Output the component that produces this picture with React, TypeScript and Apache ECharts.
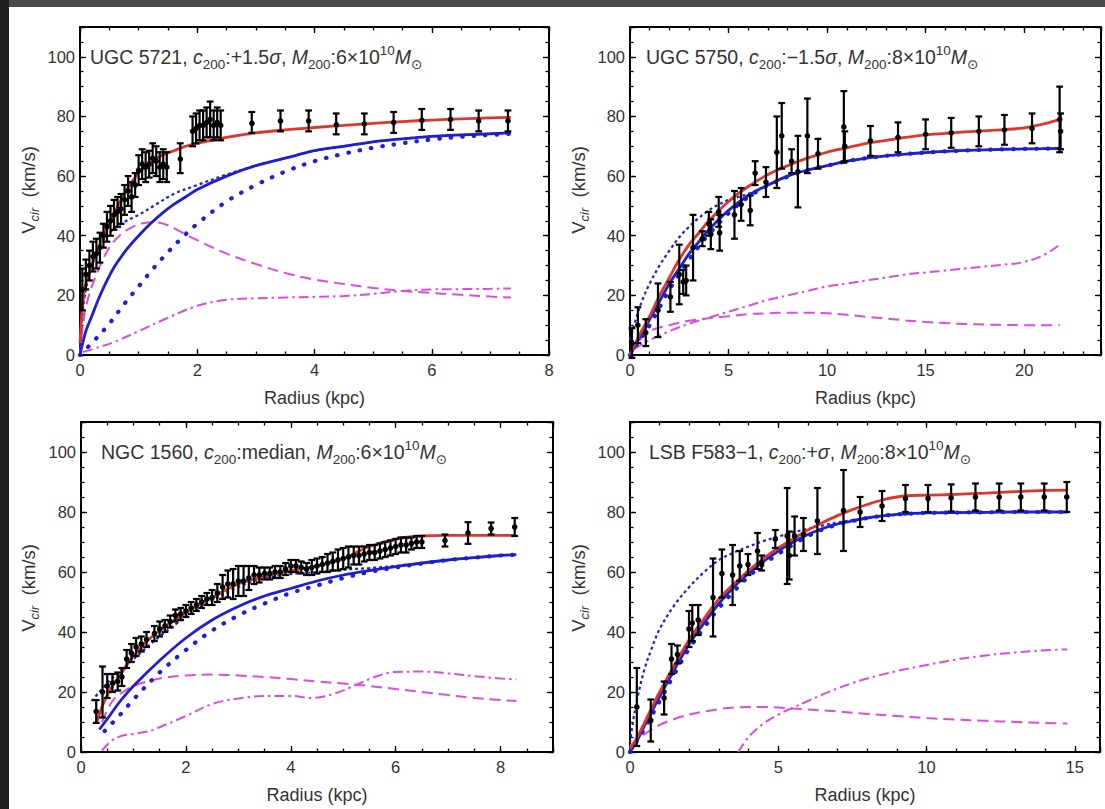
import React, { useEffect, useRef } from "react";
import * as echarts from "echarts";

// ---------------- Panel 1: UGC 5721 ----------------
const p1Obs = [
  [0.04, 22, 7], [0.1, 27, 5], [0.16, 30, 5], [0.22, 33, 5], [0.28, 34, 5], [0.34, 36, 5],
  [0.4, 40, 4], [0.46, 43, 5], [0.52, 45, 5], [0.58, 47, 5], [0.64, 48, 5], [0.7, 49, 5],
  [0.76, 52, 5], [0.82, 55, 5], [0.88, 53, 5], [0.94, 57, 4], [1.0, 62, 5], [1.06, 64, 5],
  [1.12, 63, 5], [1.18, 64, 4.5], [1.24, 66, 5], [1.3, 65, 5], [1.36, 63, 5], [1.42, 64, 5],
  [1.48, 63, 5], [1.71, 66, 5], [1.92, 75, 5], [1.98, 76, 5], [2.04, 77, 5], [2.1, 77, 5],
  [2.16, 78, 5], [2.22, 79, 6], [2.28, 77, 5], [2.34, 78, 5], [2.4, 77, 5],
  [2.93, 78, 3.5], [3.42, 78.5, 3.5], [3.9, 78.5, 3.5], [4.37, 77.5, 3.5], [4.85, 77.5, 3.5],
  [5.35, 78, 3.5], [5.83, 79, 3.5], [6.32, 79, 3.5], [6.8, 78.5, 3.5], [7.3, 78.5, 3.5],
];
const p1Red = [
  [0, 4], [0.05, 18], [0.1, 24], [0.2, 30], [0.3, 35], [0.4, 40], [0.5, 44], [0.6, 48], [0.7, 52],
  [0.8, 55.5], [0.9, 58.5], [1.0, 61], [1.2, 64.5], [1.4, 67], [1.6, 68.5], [1.8, 70], [2.0, 71],
  [2.5, 73], [3.0, 74.5], [3.5, 75.5], [4.0, 76.3], [4.5, 77], [5.0, 77.7], [5.5, 78.3], [6.0, 78.8],
  [6.5, 79.2], [7.0, 79.5], [7.35, 79.7],
];
const p1Blue = [
  [0, 0], [0.1, 8], [0.2, 13], [0.3, 18], [0.4, 22.5], [0.5, 26.5], [0.6, 30], [0.8, 35.5], [1.0, 40],
  [1.2, 44], [1.4, 47.5], [1.6, 50.5], [1.8, 53], [2.0, 55.5], [2.5, 60], [3.0, 63.5], [3.5, 66],
  [4.0, 68.5], [4.5, 70], [5.0, 71.5], [5.5, 72.5], [6.0, 73.3], [6.5, 73.8], [7.0, 74.2], [7.35, 74.5],
];
const p1BlueDash = [
  [0, 3], [0.05, 15], [0.1, 22], [0.2, 30], [0.3, 35], [0.4, 38.5], [0.5, 41], [0.7, 44], [1.0, 47],
  [1.3, 50.5], [1.6, 54], [2.0, 57], [2.5, 60.5], [3.0, 63.5], [3.5, 66], [4.0, 68.5], [4.5, 70],
  [5.0, 71.5], [5.5, 72.5], [6.0, 73.3], [6.5, 73.8], [7.0, 74.2], [7.35, 74.5],
];
const p1BlueDot = [
  [0, 0], [0.25, 5], [0.5, 10.5], [0.75, 17], [1.0, 23], [1.25, 29], [1.5, 34.5], [1.75, 39.5],
  [2.0, 44], [2.5, 51.5], [3.0, 57], [3.5, 61.5], [4.0, 65], [4.5, 67.5], [5.0, 69.5], [5.5, 71],
  [6.0, 72.3], [6.5, 73.2], [7.0, 73.8], [7.35, 74.2],
];
const p1MagDash = [
  [0, 0], [0.1, 16], [0.3, 28], [0.5, 36], [0.7, 40.5], [0.9, 43], [1.1, 44.3], [1.3, 44.5],
  [1.5, 43.5], [1.75, 41], [2.0, 38.5], [2.5, 34], [3.0, 30.5], [3.5, 27.5], [4.0, 25.3], [4.5, 23.8],
  [5.0, 22.5], [5.5, 21.5], [6.0, 20.8], [6.5, 20.2], [7.0, 19.6], [7.35, 19.3],
];
const p1MagDashDot = [
  [0.05, 1], [0.3, 2.5], [0.6, 4.5], [1.0, 8], [1.5, 12.5], [2.0, 16.5], [2.5, 18.5], [3.0, 19],
  [3.5, 19.3], [4.0, 19.5], [4.5, 19.8], [5.0, 20.5], [5.5, 21.5], [6.0, 22], [6.5, 22.1], [7.0, 22.2],
  [7.35, 22.3],
];

// ---------------- Panel 2: UGC 5750 ----------------
const p2Obs = [
  [0.1, 4, 5], [0.4, 10, 6], [0.8, 7.5, 4.5], [1.42, 15, 9], [2.05, 19.5, 5], [2.5, 27, 10],
  [2.7, 24.5, 4], [2.85, 25, 5], [3.2, 36, 11], [3.67, 39, 2.5], [4.0, 44, 4], [4.1, 40.5, 5],
  [4.5, 48, 5], [4.55, 41, 6], [5.3, 47, 8], [5.64, 50.5, 5.5], [6.1, 48.5, 5], [6.35, 61, 4],
  [6.9, 58, 5], [7.45, 68, 12], [7.7, 73.5, 11], [8.2, 65, 4], [8.52, 61.5, 12], [9.0, 73.5, 12.5],
  [9.54, 67.5, 5], [10.85, 76.5, 12], [10.9, 70, 5], [12.2, 71.8, 5], [13.6, 73, 5], [15.0, 74, 5],
  [16.3, 74.5, 5], [17.7, 75, 5], [19.0, 75.5, 5], [20.4, 76, 5], [21.8, 79, 11], [21.85, 75, 6],
];
const p2Red = [
  [0, 0], [0.5, 7], [1, 13], [1.5, 20], [2, 26], [2.5, 32], [3, 37], [3.5, 41], [4, 45], [5, 51.5],
  [6, 56.5], [7, 60.5], [8, 63.5], [9, 66], [10, 68], [11, 69.5], [12, 71], [13, 72], [14, 73],
  [15, 73.8], [16, 74.3], [17, 74.8], [18, 75.2], [19, 75.6], [20, 76.2], [21, 77.5], [21.8, 79],
];
const p2Blue = [
  [0, 0], [0.5, 6], [1, 12], [1.5, 18], [2, 24], [2.5, 29], [3, 34], [3.5, 38], [4, 42], [5, 48.5],
  [6, 53.5], [7, 57], [8, 60], [9, 62], [10, 63.5], [11, 65], [12, 66], [13, 66.8], [14, 67.4],
  [15, 67.9], [16, 68.3], [17, 68.6], [18, 68.8], [19, 69], [20, 69.1], [21, 69.2], [21.8, 69.3],
];
const p2BlueDash = [
  [0, 5], [0.3, 12], [0.6, 18], [1, 24], [1.5, 30], [2, 35], [2.5, 39.5], [3, 43], [3.5, 46],
  [4, 48.5], [4.5, 50.5], [5, 52], [5.5, 53], [6, 54], [7, 57], [8, 60], [9, 62], [10, 63.5],
  [11, 65], [12, 66], [13, 66.8], [14, 67.4], [15, 67.9], [16, 68.3], [17, 68.6], [18, 68.8],
  [19, 69], [20, 69.1], [21, 69.2], [21.8, 69.3],
];
const p2BlueDot = [
  [0, 0], [0.5, 5], [1, 10], [1.5, 16], [2, 22], [2.5, 27], [3, 32], [3.5, 36.5], [4, 40.5],
  [5, 47.5], [6, 53], [7, 56.8], [8, 59.8], [9, 62], [10, 63.5], [11, 65], [12, 66], [13, 66.8],
  [14, 67.4], [15, 67.9], [16, 68.3], [17, 68.6], [18, 68.8], [19, 69], [20, 69.1], [21, 69.2], [21.8, 69.3],
];
const p2MagDash = [
  [0, 0], [0.5, 5], [1, 8], [2, 10], [3, 11.5], [4, 12.3], [5, 13], [6, 13.7], [7, 14], [8, 14.2],
  [9, 14.2], [10, 14], [11, 13.5], [12, 12.8], [13, 12.2], [14, 11.6], [15, 11.1], [16, 10.7],
  [17, 10.4], [18, 10.2], [19, 10.1], [20, 10], [21, 10], [21.8, 10],
];
const p2MagDashDot = [
  [0.2, 2], [1, 5], [2, 8], [3, 10.5], [4, 12.5], [5, 14.5], [6, 16.5], [7, 18.5], [8, 20], [9, 21.5],
  [10, 23], [11, 24], [12, 25], [13, 26], [14, 27], [15, 27.7], [16, 28.3], [17, 29], [18, 29.7],
  [19, 30.3], [20, 31.2], [21, 33.5], [21.8, 37],
];

// ---------------- Panel 3: NGC 1560 ----------------
const p3Obs = [
  [0.29, 13.5, 3.8], [0.41, 20, 8.5], [0.5, 22, 4], [0.6, 23, 3], [0.7, 23.5, 3], [0.78, 25, 3],
  [0.87, 31, 3], [0.96, 33, 3], [1.05, 35, 3], [1.15, 36, 2.5], [1.25, 37.5, 2.5], [1.4, 39.5, 2.5],
  [1.5, 41, 2.5], [1.6, 42, 2], [1.7, 43.5, 2], [1.8, 45.5, 2], [1.9, 46, 2], [2.0, 47, 2], [2.1, 48, 2],
  [2.2, 49, 2], [2.3, 50, 2], [2.4, 51, 2], [2.5, 51.5, 2.5], [2.6, 53, 3], [2.7, 55, 4], [2.8, 56, 4.5],
  [2.9, 56, 5], [3.0, 57, 5], [3.1, 57, 5], [3.2, 58, 4], [3.3, 59, 3], [3.4, 59, 2.5], [3.5, 59.5, 2],
  [3.6, 59.5, 2], [3.7, 60, 2], [3.8, 60, 2], [3.9, 61, 2], [4.0, 62, 2], [4.1, 62, 2], [4.2, 61.5, 2],
  [4.3, 61, 2], [4.4, 61.5, 2.5], [4.5, 62, 2.5], [4.6, 62.5, 2.5], [4.7, 63, 3], [4.8, 63.5, 3],
  [4.9, 64, 3.5], [5.0, 64.5, 3.5], [5.1, 65, 3.5], [5.2, 65.5, 3], [5.3, 65.5, 3], [5.4, 66, 2.5],
  [5.5, 66.5, 2.5], [5.6, 66.5, 2.5], [5.7, 67, 2.5], [5.8, 67.5, 2.5], [5.9, 68, 2.5], [6.0, 68.5, 2.5],
  [6.1, 69, 2.5], [6.2, 69, 2.5], [6.3, 69.5, 2], [6.4, 70, 2], [6.5, 70, 2],
  [6.94, 70.5, 2], [7.38, 73, 3.6], [7.82, 74.5, 2], [8.27, 75, 3],
];
const p3Red = [
  [0.3, 10], [0.4, 15], [0.5, 19], [0.6, 22], [0.8, 27], [1.0, 32], [1.2, 36], [1.5, 40.5], [2.0, 46.5],
  [2.5, 51.5], [3.0, 56], [3.5, 58.5], [4.0, 60.5], [4.5, 62], [5.0, 64.5], [5.5, 68.5], [6.0, 71],
  [6.5, 72], [7.0, 72.2], [7.5, 72.2], [8.0, 72.2], [8.3, 72.2],
];
const p3Blue = [
  [0.35, 7.5], [0.5, 11], [0.75, 17], [1.0, 22], [1.5, 30.5], [2.0, 38], [2.5, 44], [3.0, 48.5],
  [3.5, 52], [4.0, 54.5], [4.5, 57], [5.0, 59], [5.5, 60.5], [6.0, 61.8], [6.5, 63], [7.0, 64],
  [7.5, 64.8], [8.0, 65.5], [8.3, 65.8],
];
const p3BlueDash = [
  [0.2, 17], [0.35, 20], [0.5, 23], [0.75, 27], [1.0, 31], [1.5, 38.5], [2.0, 45], [2.5, 50.5],
  [3.0, 55], [3.5, 58], [4.0, 59.3], [4.5, 60], [5.0, 60.8], [5.5, 61.3], [6.0, 62], [6.5, 63],
  [7.0, 64], [7.5, 64.8], [8.0, 65.5], [8.3, 65.8],
];
const p3BlueDot = [
  [0.45, 7], [0.75, 12.5], [1.0, 17.5], [1.5, 26.5], [2.0, 34], [2.5, 40.5], [3.0, 45.5], [3.5, 49.5],
  [4.0, 53], [4.5, 55.5], [5.0, 58], [5.5, 60], [6.0, 61.5], [6.5, 62.8], [7.0, 64], [7.5, 64.8],
  [8.0, 65.5], [8.3, 65.8],
];
const p3MagDash = [
  [0.4, 10], [0.6, 17], [0.8, 20], [1.0, 22], [1.5, 24.5], [2.0, 25.5], [2.5, 25.8], [3.0, 25.5],
  [3.5, 25], [4.0, 24.3], [4.5, 23.5], [5.0, 22.8], [5.5, 22], [6.0, 21], [6.5, 20], [7.0, 19],
  [7.5, 18], [8.0, 17.3], [8.3, 17],
];
const p3MagDashDot = [
  [0.4, 0.5], [0.6, 4], [0.8, 5.5], [1.0, 6], [1.3, 7], [1.6, 9], [2.0, 12], [2.5, 16], [3.0, 17.8],
  [3.5, 18.7], [4.0, 18.7], [4.4, 18], [4.8, 19.3], [5.2, 22], [5.6, 25], [6.0, 26.7], [6.5, 26.8],
  [7.0, 26.2], [7.5, 25.3], [8.0, 24.5], [8.3, 24.2],
];

// ---------------- Panel 4: LSB F583-1 ----------------
const p4Obs = [
  [0.23, 15, 13], [0.7, 10.5, 7], [1.15, 18, 5.5], [1.4, 31, 5], [1.6, 32.5, 3], [1.99, 41, 6],
  [2.1, 43, 6], [2.3, 44, 5], [2.8, 51.5, 13], [3.1, 59.5, 8], [3.46, 59, 10], [3.7, 62, 5],
  [3.98, 62.5, 3.5], [4.3, 67, 6], [4.44, 63, 2.5], [4.9, 71, 3], [5.3, 72, 16], [5.37, 65.5, 8],
  [5.55, 72, 6.5], [5.85, 72.5, 5.5], [6.32, 77, 11], [7.2, 80.5, 13.5], [7.76, 80, 5], [8.5, 82, 5],
  [9.29, 84.5, 4.5], [10.05, 84.5, 4.5], [10.83, 84.7, 4.5], [11.65, 85, 4.5], [12.45, 85, 4.5],
  [13.18, 85, 4.5], [13.97, 85, 4.5], [14.73, 85, 5],
];
const p4Red = [
  [0, 1], [0.25, 5], [0.5, 10], [1.0, 20], [1.5, 29], [2.0, 37.5], [2.5, 44.5], [3.0, 51], [3.5, 56],
  [4.0, 60.5], [4.5, 64.5], [5.0, 68], [5.5, 71], [6.0, 74], [6.5, 76.5], [7.0, 78.8], [7.5, 80.8],
  [8.0, 82.5], [8.5, 84], [9.0, 85], [9.5, 85.5], [10, 85.6], [10.5, 85.7], [11, 85.9], [12, 86.3],
  [13, 86.8], [14, 87.2], [14.75, 87.3],
];
const p4Blue = [
  [0, 0], [0.25, 4], [0.5, 9], [1.0, 18.5], [1.5, 27.5], [2.0, 36], [2.5, 43], [3.0, 49.5], [3.5, 55],
  [4.0, 59.5], [4.5, 63.5], [5.0, 67], [5.5, 70], [6.0, 72.5], [6.5, 74.5], [7.0, 76], [7.5, 77],
  [8.0, 78], [8.5, 78.7], [9.0, 79.2], [9.5, 79.5], [10, 79.7], [11, 79.8], [12, 79.9], [13, 80],
  [14, 80], [14.75, 80],
];
const p4BlueDash = [
  [0, 3], [0.1, 10], [0.25, 18], [0.5, 28], [0.75, 35], [1.0, 41], [1.5, 49], [2.0, 55], [2.5, 60],
  [3.0, 64], [3.5, 66.5], [4.0, 68.5], [4.5, 70.3], [5.0, 71.8], [5.5, 73.2], [6.0, 74.4], [6.5, 75.5],
  [7.0, 76.5], [7.5, 77.3], [8.0, 78], [8.5, 78.6], [9.0, 79], [9.5, 79.4], [10, 79.7], [11, 79.8],
  [12, 79.9], [13, 80], [14, 80], [14.75, 80],
];
const p4BlueDot = [
  [0, 0], [0.5, 8], [1, 17], [1.5, 26], [2, 34.5], [2.5, 41.5], [3, 48], [3.5, 53.5], [4, 58.5],
  [4.5, 62.5], [5, 66], [5.5, 69.2], [6, 72], [6.5, 74.2], [7, 75.8], [7.5, 77], [8, 78], [8.5, 78.7],
  [9, 79.2], [9.5, 79.5], [10, 79.7], [11, 79.8], [12, 79.9], [13, 80], [14, 80], [14.75, 80],
];
const p4MagDash = [
  [0, 2], [0.5, 6], [1, 9], [1.5, 11], [2, 12.5], [2.5, 13.5], [3, 14.3], [3.5, 14.8], [4, 15],
  [4.5, 15], [5, 14.8], [5.5, 14.5], [6, 14.2], [7, 13.5], [8, 12.7], [9, 12], [10, 11.3], [11, 10.8],
  [12, 10.4], [13, 10], [14, 9.7], [14.75, 9.5],
];
const p4MagDashDot = [
  [3.65, 0], [4.0, 5], [4.5, 9.5], [5.0, 12.5], [5.5, 14.8], [6.0, 17], [6.5, 19.2], [7.0, 21.2],
  [7.5, 23], [8.0, 24.5], [8.5, 25.8], [9.0, 27], [9.5, 28], [10, 29], [11, 30.8], [12, 32.2],
  [13, 33.2], [14, 33.9], [14.75, 34.2],
];

// ---------------- Labels ----------------
const yTicks = { max: 110, major: 20, minor: 5 };
const xLabel = "Radius (kpc)";
const yLabel = "{v|V}{c|cir}{n|  (km/s)}";
const titles = [
  "{n|UGC 5721, }{i|c}{s|200}{n|:+1.5}{i|σ}{n|, }{i|M}{s|200}{n|:6×10}{p|10}{i|M}{s|⊙}",
  "{n|UGC 5750, }{i|c}{s|200}{n|:−1.5}{i|σ}{n|, }{i|M}{s|200}{n|:8×10}{p|10}{i|M}{s|⊙}",
  "{n|NGC 1560, }{i|c}{s|200}{n|:median, }{i|M}{s|200}{n|:6×10}{p|10}{i|M}{s|⊙}",
  "{n|LSB F583−1, }{i|c}{s|200}{n|:+}{i|σ}{n|, }{i|M}{s|200}{n|:8×10}{p|10}{i|M}{s|⊙}",
];

const FONT = "'Liberation Sans', Arial, 'DejaVu Sans', sans-serif";
const TXT = "#333333";
const RED = "#e0352c";
const BLUE = "#1e1ed4";
const MAG = "#d94fd9";

const panels = [
  { grid: { left: 80, top: 27, width: 469, height: 328 }, xMax: 8, xMajor: 2, xMinor: 0.5,
    obs: p1Obs, red: p1Red, blue: p1Blue, blueDash: p1BlueDash, blueDot: p1BlueDot, magDash: p1MagDash, magDashDot: p1MagDashDot,
    titlePos: [90, 57], yNamePos: [28, 190] },
  { grid: { left: 630, top: 27, width: 471, height: 328 }, xMax: 23.9, xMajor: 5, xMinor: 1,
    obs: p2Obs, red: p2Red, blue: p2Blue, blueDash: p2BlueDash, blueDot: p2BlueDot, magDash: p2MagDash, magDashDot: p2MagDashDot,
    titlePos: [646, 57], yNamePos: [578, 190] },
  { grid: { left: 81, top: 422, width: 472, height: 330 }, xMax: 9, xMajor: 2, xMinor: 0.5,
    obs: p3Obs, red: p3Red, blue: p3Blue, blueDash: p3BlueDash, blueDot: p3BlueDot, magDash: p3MagDash, magDashDot: p3MagDashDot,
    titlePos: [101, 452], yNamePos: [28, 588] },
  { grid: { left: 630, top: 422, width: 470, height: 330 }, xMax: 15.85, xMajor: 5, xMinor: 1,
    obs: p4Obs, red: p4Red, blue: p4Blue, blueDash: p4BlueDash, blueDot: p4BlueDot, magDash: p4MagDash, magDashDot: p4MagDashDot,
    titlePos: [649, 452], yNamePos: [578, 588] },
];

const tickStyle = { color: "#000", width: 1.3 };
const isMultiple = (v: number, step: number) => Math.abs(v / step - Math.round(v / step)) < 1e-6;

function makeXAxes(gi: number, p: any) {
  const common = { gridIndex: gi, type: "value", min: 0, max: p.xMax, splitLine: { show: false } };
  const major = (pos: string, labels: boolean) => ({
    ...common, position: pos, interval: p.xMajor,
    axisLine: { show: true, onZero: false, lineStyle: { color: "#000", width: 2 } },
    axisTick: { show: true, inside: true, length: 6, lineStyle: tickStyle },
    axisLabel: {
      show: labels, color: TXT, fontSize: 16.5, fontFamily: FONT, margin: 6,
      formatter: (v: number) => (isMultiple(v, p.xMajor) ? String(v) : ""),
    },
    ...(labels ? { name: xLabel, nameLocation: "middle", nameGap: 34, nameTextStyle: { color: TXT, fontSize: 18, fontFamily: FONT } } : {}),
  });
  const minor = (pos: string) => ({
    ...common, position: pos, interval: p.xMinor,
    axisLine: { show: false, onZero: false },
    axisTick: { show: true, inside: true, length: 3.5, lineStyle: tickStyle },
    axisLabel: { show: false },
  });
  return [major("bottom", true), minor("bottom"), major("top", false), minor("top")];
}

function makeYAxes(gi: number) {
  const common = { gridIndex: gi, type: "value", min: 0, max: yTicks.max, splitLine: { show: false } };
  const major = (pos: string, labels: boolean) => ({
    ...common, position: pos, interval: yTicks.major,
    axisLine: { show: true, onZero: false, lineStyle: { color: "#000", width: 2 } },
    axisTick: { show: true, inside: true, length: 6, lineStyle: tickStyle },
    axisLabel: {
      show: labels, color: TXT, fontSize: 16.5, fontFamily: FONT, margin: 5,
      formatter: (v: number) => (isMultiple(v, yTicks.major) ? String(v) : ""),
    },
  });
  const minor = (pos: string) => ({
    ...common, position: pos, interval: yTicks.minor,
    axisLine: { show: false, onZero: false },
    axisTick: { show: true, inside: true, length: 3.5, lineStyle: tickStyle },
    axisLabel: { show: false },
  });
  return [major("left", true), minor("left"), major("right", false), minor("right")];
}

const errRender = (params: any, api: any) => {
  const x = api.value(0), y = api.value(1), e = api.value(2);
  const t = api.coord([x, y + e]);
  const b = api.coord([x, y - e]);
  const c = api.coord([x, y]);
  const hw = 3.4;
  const st = { stroke: "#000", lineWidth: 2.2 };
  return {
    type: "group",
    children: [
      { type: "line", shape: { x1: t[0], y1: t[1], x2: b[0], y2: b[1] }, style: st },
      { type: "line", shape: { x1: t[0] - hw, y1: t[1], x2: t[0] + hw, y2: t[1] }, style: st },
      { type: "line", shape: { x1: b[0] - hw, y1: b[1], x2: b[0] + hw, y2: b[1] }, style: st },
      { type: "circle", shape: { cx: c[0], cy: c[1], r: 2.8 }, style: { fill: "#000" } },
    ],
  };
};

function lineSeries(gi: number, data: number[][], color: string, width: number, type: any, cap = "butt") {
  return {
    type: "line", xAxisIndex: gi * 4, yAxisIndex: gi * 4, data, showSymbol: false, symbol: "none",
    smooth: 0.35, silent: true, z: 3,
    lineStyle: { color, width, type, cap },
  };
}

const titleRich = {
  n: { fontSize: 19.5, lineHeight: 28, verticalAlign: "middle", fontFamily: FONT, fill: TXT },
  i: { fontSize: 19.5, lineHeight: 28, verticalAlign: "middle", fontFamily: FONT, fontStyle: "italic", fill: TXT },
  s: { fontSize: 13.5, lineHeight: 15, verticalAlign: "bottom", fontFamily: FONT, fill: TXT },
  p: { fontSize: 13.5, lineHeight: 15, verticalAlign: "top", fontFamily: FONT, fill: TXT },
};
const yRich = {
  v: { fontSize: 18.5, lineHeight: 26, verticalAlign: "middle", fontFamily: FONT, fill: TXT },
  n: { fontSize: 18.5, lineHeight: 26, verticalAlign: "middle", fontFamily: FONT, fill: TXT },
  c: { fontSize: 13, lineHeight: 14, verticalAlign: "bottom", fontFamily: FONT, fontStyle: "italic", fill: TXT },
};

function buildOption() {
  const grid: any[] = [];
  const xAxis: any[] = [];
  const yAxis: any[] = [];
  const series: any[] = [];
  const elements: any[] = [
    { type: "rect", shape: { x: 0, y: 0, width: 1105, height: 7 }, style: { fill: "#4b4b4b" }, z: 0 },
    { type: "rect", shape: { x: 0, y: 0, width: 9, height: 809 }, style: { fill: "#1f1f1f" }, z: 0 },
  ];
  panels.forEach((p, gi) => {
    grid.push({ ...p.grid, containLabel: false });
    xAxis.push(...makeXAxes(gi, p));
    yAxis.push(...makeYAxes(gi));
    series.push(lineSeries(gi, p.magDashDot, MAG, 2, [10, 4, 2.5, 4]));
    series.push(lineSeries(gi, p.magDash, MAG, 2, [11, 6]));
    series.push(lineSeries(gi, p.blueDot, BLUE, 4.2, [0.5, 11], "round"));
    series.push(lineSeries(gi, p.blue, BLUE, 2.8, "solid"));
    series.push(lineSeries(gi, p.blueDash, BLUE, 2.2, [3, 3]));
    series.push(lineSeries(gi, p.red, RED, 2.8, "solid"));
    series.push({
      type: "custom", xAxisIndex: gi * 4, yAxisIndex: gi * 4, data: p.obs, encode: { x: 0, y: 1 },
      renderItem: errRender, silent: true, z: 5,
    });
    elements.push({
      type: "text", x: p.titlePos[0], y: p.titlePos[1], z: 10,
      style: { text: titles[gi], rich: titleRich, fill: TXT, fontSize: 19.5, fontFamily: FONT, align: "left", verticalAlign: "middle" },
    });
    elements.push({
      type: "text", x: p.yNamePos[0], y: p.yNamePos[1], rotation: Math.PI / 2, z: 10,
      style: { text: yLabel, rich: yRich, fill: TXT, fontSize: 18.5, fontFamily: FONT, align: "center", verticalAlign: "middle" },
    });
  });
  return {
    animation: false,
    backgroundColor: "#ffffff",
    textStyle: { fontFamily: FONT },
    grid, xAxis, yAxis, series,
    graphic: { elements },
  };
}

export default function App() {
  const ref = useRef<HTMLDivElement>(null);
  useEffect(() => {
    const chart = echarts.init(ref.current as HTMLDivElement, null, { renderer: "svg" });
    chart.setOption(buildOption() as any);
    return () => chart.dispose();
  }, []);
  return (
    <div
      ref={ref}
      style={{ position: "fixed", left: 0, top: 0, width: 1105, height: 809, background: "#fff" }}
    />
  );
}
